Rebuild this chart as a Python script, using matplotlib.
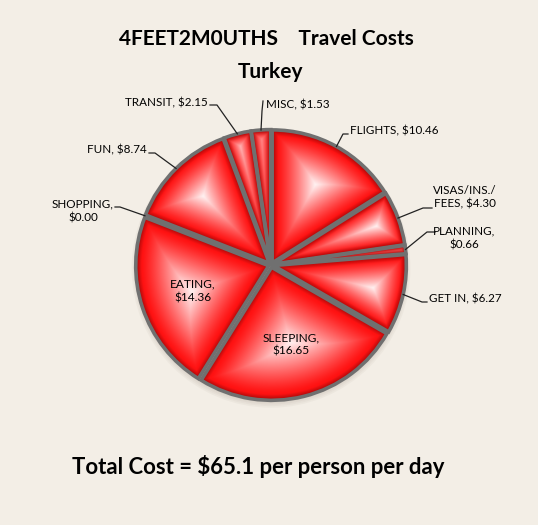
import numpy as np
from matplotlib import pyplot as plt
from matplotlib.colors import to_rgb

################################################################################
### Data (clockwise from 12 o'clock)
################################################################################

names = ['FLIGHTS', 'VISAS/INS./\nFEES', 'PLANNING', 'GET IN', 'SLEEPING',
         'EATING', 'SHOPPING', 'FUN', 'TRANSIT', 'MISC']
costs = [10.46, 4.30, 0.66, 6.27, 16.65, 14.36, 0.00, 8.74, 2.15, 1.53]
wrap = [False, False, True, False, True, True, True, False, False, False]
inside = ['SLEEPING', 'EATING']

title = '4FEET2M0UTHS    Travel Costs\nTurkey'
total_text = 'Total Cost = $65.1 per person per day'

################################################################################
### Layout (pixels of the 538x525 picture)
################################################################################

CX, CY, RPX = 271, 265, 133
W, H = 538, 525

# text anchor x, y, ha, then leader knee and tail
outside_layout = {
    'FLIGHTS':  (350, 131, 'left',   (343, 134), (348, 134)),
    'VISAS/INS./\nFEES': (465, 197, 'center', (423, 208), (432, 208)),
    'PLANNING': (464, 238, 'center', (427, 232), (435, 232)),
    'GET IN':   (429, 299, 'left',   (422, 302), (427, 302)),
    'SHOPPING': (83, 211, 'center',  (120, 207), (115, 207)),
    'FUN':      (147, 150, 'right',  (155, 153), (149, 153)),
    'TRANSIT':  (208, 103, 'right',  (217, 105), (210, 105)),
    'MISC':     (266, 105, 'left',   (262, 111), (263, 101)),
}

bg = '#F3EEE6'
edge_gray = '#707070'
dark_red = np.array(to_rgb('#A00808'))
red = np.array(to_rgb('#FF1212'))
white = np.array(to_rgb('#FFF8F8'))


def px(x, y):
    return (x - CX) / RPX, (CY - y) / RPX


plt.rcParams['font.family'] = ['Lato', 'DejaVu Sans']

fig = plt.figure(figsize=(W / 100, H / 100), dpi=100, facecolor=bg)
ax = fig.add_axes([0, 0, 1, 1])
ax.set_facecolor(bg)

# soft shadow under the pie
for k in range(4):
    ax.add_patch(plt.Circle((0.0, -0.025), 1.0 + 0.012 * (k + 1),
                            color='#7a6a5a', alpha=0.05, zorder=0, lw=0))

wedges, _ = ax.pie(costs, startangle=90, counterclock=False,
                   explode=[0.018] * len(costs),
                   wedgeprops=dict(edgecolor=edge_gray, linewidth=2.6))

################################################################################
### Bevel shading for each slice
################################################################################

n = 600
g = np.linspace(-1.15, 1.15, n)
X, Y = np.meshgrid(g, g)
for w in wedges:
    t1, t2 = w.theta1, w.theta2
    if t2 - t1 <= 0:
        continue
    cx, cy = w.center
    R = w.r
    dx, dy = X - cx, Y - cy
    r = np.hypot(dx, dy)
    ang = (np.degrees(np.arctan2(dy, dx)) - t1) % 360
    width = t2 - t1
    phi = np.radians(ang)
    wr = np.radians(width)
    d1 = np.where(phi < np.pi / 2, r * np.sin(phi), r)
    rest = wr - phi
    d2 = np.where((rest < np.pi / 2) & (rest >= 0), r * np.sin(np.clip(rest, 0, None)), r)
    d = np.minimum(np.minimum(R - r, d1), d2)
    mask = (r <= R) & (ang <= width)
    dmax = d[mask].max()
    t = np.clip(d / dmax, 0, 1)
    # thin slices get less of the white highlight
    strength = 0.97 * min(1.0, dmax / 0.13)
    e = np.clip(d / 0.045, 0, 1)[..., None]
    h = (np.clip((t - 0.12) / 0.88, 0, 1) ** 1.2)[..., None] * strength
    col = dark_red * (1 - e) + red * e
    col = col * (1 - h) + white * h
    rgba = np.dstack([col, mask.astype(float)])
    im = ax.imshow(rgba, extent=[-1.15, 1.15, -1.15, 1.15], origin='lower',
                   interpolation='bilinear', zorder=2)
    im.set_clip_path(w)
    w.set_facecolor('none')
    w.set_zorder(3)

################################################################################
### Labels
################################################################################

for w, name, v, wp in zip(wedges, names, costs, wrap):
    label = name + (',\n' if wp else ', ') + '$%.2f' % v
    mid = np.radians((w.theta1 + w.theta2) / 2)
    cx, cy = w.center
    if name in inside:
        ax.text(cx + 0.6 * np.cos(mid), cy + 0.6 * np.sin(mid), label,
                ha='center', va='center', fontsize=8.6, zorder=5,
                linespacing=1.25)
        continue
    tx, ty, ha, knee, tail = outside_layout[name]
    ax.text(*px(tx, ty), label, ha=ha, va='center', fontsize=8.4,
            zorder=5, linespacing=1.25, multialignment='center')
    ex, ey = cx + w.r * np.cos(mid), cy + w.r * np.sin(mid)
    kx, ky = px(*knee)
    sx, sy = px(*tail)
    ax.plot([ex, kx, sx], [ey, ky, sy], color='#222222', lw=0.9, zorder=4)

fig.text(266 / W, 1 - 39 / H, title.split('\n')[0], ha='center', va='center',
         fontsize=15, fontweight='bold')
fig.text(271 / W, 1 - 72 / H, title.split('\n')[1], ha='center', va='center',
         fontsize=15, fontweight='bold')
fig.text(258 / W, 1 - 466 / H, total_text, ha='center', va='center',
         fontsize=15.9, fontweight='bold')

ax.set_xlim(-CX / RPX, (W - CX) / RPX)
ax.set_ylim(-(H - CY) / RPX, CY / RPX)
ax.set_aspect('auto')
ax.axis('off')

fig.savefig('out.png', dpi=100, facecolor=bg)
